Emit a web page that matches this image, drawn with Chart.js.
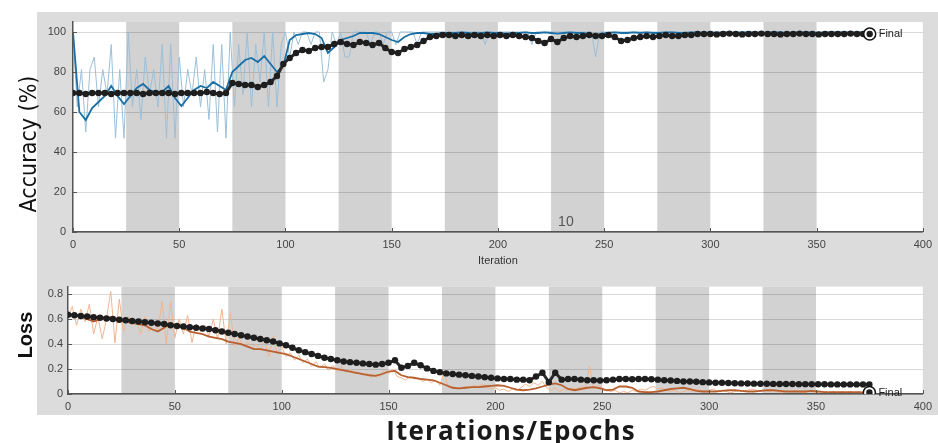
<!DOCTYPE html>
<html lang="en">
<head>
<meta charset="UTF-8">
<title>Training Progress</title>
<style>
  body { margin: 0; background: #ffffff; font-family: 'Liberation Sans', Arial, sans-serif; }
  .stage { position: relative; width: 938px; height: 443px; overflow: hidden; }
  .figure-bg { position: absolute; left: 37px; top: 12px; width: 901px; height: 403px; background: #dcdcdc; }
  #accChart { position: absolute; left: 0; top: 0; }
  #lossChart { position: absolute; left: 0; top: 275px; }
  .axis-title { position: absolute; white-space: nowrap; color: #111; transform: translate(-50%, -50%); }
  .acc-title { left: 28px; top: 144px; font: 23px 'Liberation Sans Narrow', 'DejaVu Sans Condensed', Arial, sans-serif; transform: translate(-50%, -50%) rotate(-90deg); }
  .loss-title { left: 25px; top: 335px; font: bold 20px 'Liberation Sans', Arial, sans-serif; transform: translate(-50%, -50%) rotate(-90deg); }
  .epoch-title { left: 511px; top: 430px; font: bold 26px 'Open Sans', 'Liberation Sans', sans-serif; letter-spacing: 1.2px; color: #1a1a1a; }
</style>
</head>
<body>
<div class="stage">
  <div class="figure-bg"></div>
  <canvas id="accChart" width="938" height="275"></canvas>
  <canvas id="lossChart" width="938" height="168"></canvas>
  <div class="axis-title acc-title">Accuracy (%)</div>
  <div class="axis-title loss-title">Loss</div>
  <div class="axis-title epoch-title">Iterations/Epochs</div>
</div>

<script src="https://cdn.jsdelivr.net/npm/chart.js"></script>
<script>
// iterations per series sample
const rawStep = 2;
const smoothStep = 3;
const valStep = 3;

// epoch boundaries (25 iterations per epoch, 15 epochs)
const epochEdges = [0, 25, 50, 75, 100, 125, 150, 175, 200, 225, 250, 275, 300, 325, 350, 375];
const iterTicks = [0, 50, 100, 150, 200, 250, 300, 350, 400];
const accTicks = [0, 20, 40, 60, 80, 100];
const lossTicks = [0, 0.2, 0.4, 0.6, 0.8];

// training accuracy per mini-batch, every 2 iterations
const accRaw = [
  100, 62.5, 81.25, 50, 81.25, 87.5, 62.5, 81.25, 68.75, 93.75,
  46.9, 81.25, 46.9, 100, 62.5, 81.25, 56.25, 87.5, 68.75, 81.25,
  62.5, 93.75, 46.9, 93.75, 46.9, 87.5, 62.5, 81.25, 68.75, 87.5,
  62.5, 81.25, 56.25, 93.75, 50, 93.75, 46.9, 100, 62.5, 93.75,
  68.75, 100, 62.5, 93.75, 75, 100, 62.5, 100, 62.5, 93.75,
  100, 87.5, 100, 93.75, 100, 100, 93.75, 100, 100, 75,
  81.25, 100, 93.75, 100, 87.5, 87.5, 100, 100, 100, 100,
  93.75, 100, 100, 93.75, 100, 100, 93.75, 100, 100, 100,
  100, 93.75, 100, 100, 100, 100, 100, 100, 100, 100,
  100, 100, 100, 100, 100, 100, 100, 93.75, 100, 100,
  100, 100, 100, 100, 100, 100, 100, 100, 93.75, 100,
  100, 100, 100, 100, 100, 100, 100, 100, 100, 100,
  100, 100, 100, 87.5, 100, 100, 100, 100, 100, 100,
  100, 100, 100, 100, 100, 100, 100, 100, 100, 100,
  100, 100, 100, 100, 100, 100, 100, 100, 100, 100,
  100, 100, 100, 100, 100, 100, 100, 100, 100, 100,
  100, 100, 100, 100, 100, 100, 100, 100, 100, 100,
  100, 100, 100, 100, 100, 100, 100, 100, 100, 100,
  100, 100, 100, 100, 100, 100, 100, 100
];

// smoothed training accuracy, every 3 iterations
const accSmooth = [
  100, 60, 56, 62, 65, 68, 73, 68, 64, 68,
  72, 74, 71, 70, 70, 73, 67, 63, 67, 71,
  73, 72, 75, 73, 71, 80, 83, 86, 87, 85,
  88, 84, 80, 83, 96, 98.5, 99, 99.5, 99, 97,
  89.5, 92.5, 96, 97, 98, 99.5, 99.5, 99.5, 99, 97.5,
  96, 95, 97.5, 99, 99.5, 99.5, 99, 99, 99.5, 99.5,
  99.5, 99.8, 99.5, 99.2, 99.5, 99.8, 99.5, 99.5, 99.2, 99.5,
  99.5, 99.8, 99.5, 99.5, 99.8, 99.5, 99.2, 99.5, 99.8, 99.5,
  99.5, 99, 98.5, 99.2, 99.5, 99.8, 99.5, 99.5, 99.8, 99.5,
  99.8, 99.5, 99.5, 99.8, 99.8, 99.5, 99.5, 99.8, 99.8, 99.5,
  99.8, 99.5, 99.8, 99.8, 99.5, 99.8, 99.8, 99.8, 99.5, 99.8,
  99.8, 99.8, 99.5, 99.8, 99.8, 99.8, 99.8, 99.5, 99.8, 99.8,
  99.8, 99.8, 99.8, 99.8, 99.8, 99.8
];

// validation accuracy, every 3 iterations
const accVal = [
  69.5, 69.5, 69, 69.5, 69.5, 69.5, 69, 69.5, 69.5, 69.5,
  69.5, 69, 69.5, 69.5, 69.5, 69.5, 69, 69.5, 69.5, 69.5,
  69.5, 70, 69.5, 69, 69.5, 74.5, 74, 73.5, 73.5, 72.5,
  73.5, 75, 78, 84, 87, 89.5, 91, 90.5, 92, 92.5,
  92.5, 94, 95, 94, 93.5, 95, 94.5, 93.5, 94.5, 92,
  90, 89.5, 91.5, 92.5, 93.5, 95.5, 97.5, 98, 98.5, 98.5,
  98, 98.5, 98, 98.5, 98, 98.5, 98, 98.5, 98, 98.5,
  98, 97.5, 97, 95.5, 94.5, 96.5, 95, 97, 98, 97.5,
  98, 98.5, 98, 98, 98.5, 97.5, 95.5, 96, 97, 97.5,
  98, 97.5, 98, 98.5, 98, 98, 98.5, 98.5, 99, 99,
  99, 98.8, 99, 99.2, 99, 98.8, 99, 99, 99.2, 99,
  99, 98.8, 99, 99, 99.2, 99, 99, 98.8, 99, 99,
  99, 99, 99.2, 99, 99, 99
];

// training loss per mini-batch, every 2 iterations
const lossRaw = [
  0.62, 0.7, 0.55, 0.68, 0.58, 0.72, 0.48, 0.62, 0.44, 0.6,
  0.82, 0.41, 0.76, 0.5, 0.62, 0.55, 0.6, 0.48, 0.62, 0.5,
  0.58, 0.5, 0.74, 0.4, 0.74, 0.45, 0.6, 0.48, 0.63, 0.41,
  0.56, 0.5, 0.55, 0.46, 0.6, 0.44, 0.68, 0.4, 0.65, 0.38,
  0.45, 0.38, 0.42, 0.36, 0.4, 0.35, 0.42, 0.3, 0.46, 0.32,
  0.38, 0.3, 0.33, 0.27, 0.31, 0.25, 0.28, 0.22, 0.26, 0.21,
  0.24, 0.19, 0.23, 0.18, 0.22, 0.17, 0.2, 0.16, 0.18, 0.15,
  0.17, 0.13, 0.16, 0.14, 0.19, 0.16, 0.2, 0.14, 0.13, 0.11,
  0.14, 0.12, 0.13, 0.1, 0.12, 0.09, 0.11, 0.07, 0.18, 0.05,
  0.06, 0.04, 0.05, 0.06, 0.05, 0.07, 0.06, 0.08, 0.06, 0.04,
  0.05, 0.03, 0.04, 0.02, 0.04, 0.03, 0.05, 0.08, 0.06, 0.09,
  0.07, 0.1, 0.05, 0.03, 0.05, 0.02, 0.04, 0.03, 0.05, 0.04,
  0.06, 0.05, 0.22, 0.04, 0.07, 0.05, 0.03, 0.02, 0.03, 0.01,
  0.02, 0.01, 0.03, 0.02, 0.04, 0.03, 0.05, 0.06, 0.04, 0.05,
  0.03, 0.02, 0.03, 0.01, 0.02, 0.03, 0.02, 0.04, 0.03, 0.02,
  0.03, 0.04, 0.02, 0.03, 0.02, 0.01, 0.02, 0.03, 0.02, 0.03,
  0.04, 0.03, 0.02, 0.03, 0.02, 0.03, 0.02, 0.01, 0.02, 0.02,
  0.03, 0.02, 0.01, 0.02, 0.02, 0.01, 0.02, 0.02, 0.01, 0.02,
  0.01, 0.02, 0.01, 0.02, 0.01, 0.02, 0.01, 0.01
];

// smoothed training loss, every 3 iterations
const lossSmooth = [
  0.64, 0.63, 0.62, 0.6, 0.58, 0.6, 0.62, 0.61, 0.6, 0.58,
  0.57, 0.56, 0.55, 0.52, 0.5, 0.53, 0.56, 0.55, 0.53, 0.5,
  0.49, 0.48, 0.46, 0.45, 0.44, 0.42, 0.41, 0.4, 0.38, 0.36,
  0.36, 0.35, 0.34, 0.33, 0.32, 0.3, 0.28, 0.26, 0.24, 0.22,
  0.215, 0.21, 0.2, 0.19, 0.18, 0.17, 0.16, 0.15, 0.145, 0.16,
  0.18, 0.185, 0.15, 0.135, 0.13, 0.12, 0.115, 0.11, 0.09, 0.07,
  0.05, 0.045, 0.05, 0.055, 0.055, 0.06, 0.065, 0.07, 0.065, 0.05,
  0.035, 0.03, 0.035, 0.045, 0.06, 0.075, 0.085, 0.07, 0.04, 0.03,
  0.04, 0.05, 0.055, 0.045, 0.03, 0.035, 0.06, 0.06, 0.05, 0.02,
  0.015, 0.015, 0.02, 0.03, 0.04, 0.045, 0.05, 0.04, 0.025, 0.02,
  0.02, 0.02, 0.025, 0.03, 0.03, 0.025, 0.02, 0.02, 0.025, 0.03,
  0.03, 0.025, 0.02, 0.02, 0.02, 0.02, 0.025, 0.02, 0.015, 0.015,
  0.015, 0.015, 0.015, 0.015, 0.012, 0.012
];

// validation loss, every 3 iterations
const lossVal = [
  0.635, 0.63, 0.625, 0.62, 0.615, 0.61, 0.605, 0.6, 0.595, 0.59,
  0.585, 0.58, 0.575, 0.57, 0.565, 0.56, 0.55, 0.545, 0.54, 0.535,
  0.53, 0.525, 0.52, 0.51, 0.5, 0.49, 0.48, 0.47, 0.46, 0.45,
  0.44, 0.43, 0.42, 0.405, 0.39, 0.37, 0.35, 0.335, 0.32, 0.305,
  0.29, 0.28, 0.27, 0.26, 0.255, 0.25, 0.245, 0.24, 0.235, 0.24,
  0.25, 0.27, 0.21, 0.225, 0.25, 0.23, 0.205, 0.185, 0.175, 0.165,
  0.16, 0.155, 0.15, 0.145, 0.14, 0.135, 0.13, 0.125, 0.12, 0.12,
  0.115, 0.115, 0.11, 0.14, 0.17, 0.095, 0.17, 0.115, 0.12, 0.12,
  0.115, 0.11, 0.11, 0.108, 0.11, 0.115, 0.12, 0.12, 0.118, 0.12,
  0.12, 0.118, 0.115, 0.11, 0.108, 0.105, 0.1, 0.1, 0.098, 0.095,
  0.093, 0.09, 0.09, 0.088, 0.086, 0.085, 0.084, 0.083, 0.082, 0.082,
  0.081, 0.08, 0.08, 0.08, 0.079, 0.079, 0.078, 0.078, 0.078, 0.077,
  0.077, 0.077, 0.077, 0.077, 0.077, 0.077
];

// final values marked at the end of training
const finalIter = 375;
const accFinal = 99;
const lossFinal = 0.012;
const epochMark = { text: '10', iter: 232, acc: 5 };

const series = (values, step) => values.map((v, i) => ({ x: i * step, y: v }));

// white plot area, grey bands on alternate epochs, inward tick marks
const panelDecor = {
  id: 'panelDecor',
  beforeDraw(chart) {
    const { ctx, chartArea: a, scales: { x } } = chart;
    ctx.save();
    ctx.fillStyle = '#ffffff';
    ctx.fillRect(a.left, a.top, a.width, a.height);
    ctx.fillStyle = '#d2d2d2';
    for (let e = 1; e < epochEdges.length - 1; e += 2) {
      const x0 = x.getPixelForValue(epochEdges[e]);
      const x1 = x.getPixelForValue(epochEdges[e + 1]);
      ctx.fillRect(x0, a.top, x1 - x0, a.height);
    }
    ctx.restore();
  },
  afterDraw(chart) {
    const { ctx, chartArea: a, scales: { x, y } } = chart;
    ctx.save();
    ctx.strokeStyle = '#555';
    ctx.lineWidth = 1;
    ctx.beginPath();
    x.ticks.forEach(t => {
      const px = Math.round(x.getPixelForValue(t.value)) + 0.5;
      ctx.moveTo(px, a.bottom);
      ctx.lineTo(px, a.bottom - 4);
    });
    y.ticks.forEach(t => {
      const py = Math.round(y.getPixelForValue(t.value)) + 0.5;
      ctx.moveTo(a.left, py);
      ctx.lineTo(a.left + 4, py);
    });
    ctx.stroke();
    // "Final" tag next to the end marker
    chart.data.datasets.forEach((ds, i) => {
      if (!ds.finalTag) return;
      const pt = chart.getDatasetMeta(i).data[0];
      ctx.fillStyle = '#222';
      ctx.font = '11px "Liberation Sans", Arial, sans-serif';
      ctx.textBaseline = 'middle';
      ctx.fillText('Final', pt.x + 9, pt.y);
    });
    ctx.restore();
  }
};

const epochLabel = {
  id: 'epochLabel',
  afterDatasetsDraw(chart) {
    const { ctx, scales: { x, y } } = chart;
    ctx.save();
    ctx.fillStyle = '#555';
    ctx.font = '14px "Liberation Sans", Arial, sans-serif';
    ctx.textAlign = 'center';
    ctx.textBaseline = 'middle';
    ctx.fillText(epochMark.text, x.getPixelForValue(epochMark.iter), y.getPixelForValue(epochMark.acc));
    ctx.restore();
  }
};

const tickFont = { family: "'Liberation Sans', Arial, sans-serif", size: 11 };

function xScale(height, title) {
  return {
    type: 'linear', min: 0, max: 400,
    afterBuildTicks: s => { s.ticks = iterTicks.map(v => ({ value: v })); },
    afterFit: s => { s.height = height; },
    grid: { display: false, drawTicks: false },
    border: { color: '#555', width: 1.5 },
    ticks: { font: tickFont, color: '#444', padding: 6, maxRotation: 0 },
    title: title ? { display: true, text: title, font: tickFont, color: '#333', padding: { top: 0, bottom: 7 } } : { display: false }
  };
}

function yScale(max, ticks, width, pad) {
  return {
    min: 0, max: max,
    afterBuildTicks: s => { s.ticks = ticks.map(v => ({ value: v })); },
    afterFit: s => { s.width = width; },
    grid: { color: 'rgba(0,0,0,0.15)', drawTicks: false },
    border: { color: '#555', width: 1.5 },
    ticks: { font: tickFont, color: '#444', padding: pad, callback: v => String(v) }
  };
}

// end-of-training marker: open ring with a dark dot inside
function finalMarker(value) {
  return [
    { label: 'Final', data: [{ x: finalIter, y: value }], finalTag: true, order: 0, showLine: false,
      pointRadius: 6, pointBackgroundColor: '#ffffff', pointBorderColor: '#111', pointBorderWidth: 1.5 },
    { label: 'Final value', data: [{ x: finalIter, y: value }], order: -1, showLine: false,
      pointRadius: 3.2, pointBackgroundColor: '#1e1e1e', pointBorderWidth: 0 }
  ];
}

function validationSet(values) {
  return { label: 'Validation', data: series(values, valStep), order: 1, borderColor: '#2b2b2b', borderWidth: 3,
    pointRadius: 3.2, pointBackgroundColor: '#1e1e1e', pointBorderWidth: 0 };
}

const common = {
  responsive: false,
  animation: false,
  parsing: false,
  plugins: { legend: { display: false }, tooltip: { enabled: false } }
};

new Chart(document.getElementById('accChart'), {
  type: 'line',
  data: {
    datasets: [
      ...finalMarker(accFinal),
      validationSet(accVal),
      { label: 'Training (smoothed)', data: series(accSmooth, smoothStep), order: 2, borderColor: '#1c6fa4', borderWidth: 1.8, pointRadius: 0 },
      { label: 'Training', data: series(accRaw, rawStep), order: 3, borderColor: '#9cbfd8', borderWidth: 1, pointRadius: 0 }
    ]
  },
  options: {
    ...common,
    layout: { padding: { top: 22, right: 9, left: 0, bottom: 0 } },
    scales: { x: xScale(43, 'Iteration'), y: yScale(105, accTicks, 73, 7) }
  },
  plugins: [panelDecor, epochLabel]
});

new Chart(document.getElementById('lossChart'), {
  type: 'line',
  data: {
    datasets: [
      ...finalMarker(lossFinal),
      validationSet(lossVal),
      { label: 'Training (smoothed)', data: series(lossSmooth, smoothStep), order: 2, borderColor: '#b8602f', borderWidth: 1.8, pointRadius: 0 },
      { label: 'Training', data: series(lossRaw, rawStep), order: 3, borderColor: '#f1b58f', borderWidth: 1, pointRadius: 0 }
    ]
  },
  options: {
    ...common,
    layout: { padding: { top: 7, right: 10, left: 0, bottom: 0 } },
    scales: { x: xScale(49, null), y: yScale(0.86, lossTicks, 68, 5) }
  },
  plugins: [panelDecor]
});
</script>
</body>
</html>
